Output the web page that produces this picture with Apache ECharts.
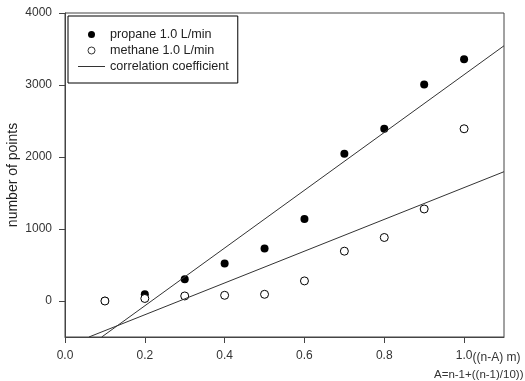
<!DOCTYPE html>
<html>
<head>
    <meta charset="utf-8">
    <title>ECharts</title>
    <script src="https://cdn.jsdelivr.net/npm/echarts@6/dist/echarts.min.js"></script>
    <style>
        html, body { margin: 0; padding: 0; background: #fff; }
    </style>
</head>
<body>
<div id="main" style="width: 525px;height:381px;"></div>
<script type="text/javascript">
    // data
    var xValues = [0.1, 0.2, 0.3, 0.4, 0.5, 0.6, 0.7, 0.8, 0.9, 1.0];
    var propane = [5, 93, 302, 520, 729, 1138, 2044, 2392, 3006, 3359];
    var methane = [0, 35, 70, 79, 93, 279, 692, 882, 1278, 2392];
    // fitted lines, endpoints where they leave the plot
    var propaneFit = [[0.092, -500], [1.1, 3545]];
    var methaneFit = [[0.06, -500], [1.1, 1796]];
    var xTicks = [0, 0.2, 0.4, 0.6, 0.8, 1.0];
    var yTicks = [0, 1000, 2000, 3000, 4000];

    function pairs(xs, ys) {
        return xs.map(function (x, i) { return [x, ys[i]]; });
    }

    var font = "'Liberation Sans', Arial, sans-serif";
    var axisColor = '#444';
    var lineColor = '#333';

    var myChart = echarts.init(document.getElementById('main'));
    var option = {
        animation: false,
        textStyle: { fontFamily: font },
        grid: {
            left: 65, right: 21, top: 13, bottom: 44,
            containLabel: false,
            outerBoundsMode: 'none',
            show: true,
            borderColor: axisColor,
            borderWidth: 1
        },
        legend: {
            orient: 'vertical',
            left: 68, top: 16,
            padding: [12, 9, 10, 10],
            itemWidth: 27,
            itemHeight: 7,
            itemGap: 3,
            borderColor: '#000',
            borderWidth: 1,
            textStyle: { fontSize: 12.6, color: '#222', fontFamily: font },
            data: [
                { name: 'propane 1.0 L/min' },
                { name: 'methane 1.0 L/min', itemStyle: { borderWidth: 0.8 } },
                // plain line icon for the fitted lines
                { name: 'correlation coefficient', icon: 'path://M0,0H27V1H0Z' }
            ]
        },
        xAxis: {
            type: 'value',
            min: 0, max: 1.1,
            splitLine: { show: false },
            axisLine: { onZero: false, lineStyle: { color: axisColor } },
            axisTick: { customValues: xTicks, length: 6, lineStyle: { color: axisColor } },
            axisLabel: {
                customValues: xTicks,
                color: '#333', fontSize: 12, margin: 13,
                formatter: function (v) { return v.toFixed(1); }
            },
            name: '{a|((n-A) m)}\n{b|A=n-1+((n-1)/10))}',
            nameLocation: 'end',
            nameGap: -70,
            nameMoveOverlap: false,
            nameTextStyle: {
                verticalAlign: 'top',
                padding: [12, 0, 0, 0],
                rich: {
                    a: { fontSize: 12, color: '#333', lineHeight: 17, align: 'right', padding: [0, 3, 0, 0] },
                    b: { fontSize: 11.5, color: '#333', lineHeight: 17, align: 'right' }
                }
            }
        },
        yAxis: {
            type: 'value',
            min: -500, max: 4000,
            splitLine: { show: false },
            axisLine: { onZero: false, lineStyle: { color: axisColor } },
            axisTick: { customValues: yTicks, length: 6, lineStyle: { color: axisColor } },
            axisLabel: {
                customValues: yTicks, color: '#333', fontSize: 12, margin: 13,
                formatter: function (v) { return String(v); }
            },
            name: 'number of points',
            nameLocation: 'middle',
            nameGap: 45,
            nameMoveOverlap: false,
            nameTextStyle: { fontSize: 14, color: '#222' }
        },
        series: [
            {
                name: 'correlation coefficient',
                type: 'line',
                symbol: 'none',
                lineStyle: { color: lineColor, width: 1 },
                itemStyle: { color: lineColor },
                data: propaneFit
            },
            {
                name: 'correlation coefficient',
                type: 'line',
                symbol: 'none',
                lineStyle: { color: lineColor, width: 1 },
                itemStyle: { color: lineColor },
                data: methaneFit
            },
            {
                name: 'propane 1.0 L/min',
                type: 'scatter',
                symbol: 'circle',
                symbolSize: 8,
                itemStyle: { color: '#000', opacity: 1 },
                data: pairs(xValues, propane)
            },
            {
                name: 'methane 1.0 L/min',
                type: 'scatter',
                symbol: 'circle',
                symbolSize: 8,
                itemStyle: { color: '#fff', borderColor: '#000', borderWidth: 1, opacity: 1 },
                data: pairs(xValues, methane)
            }
        ]
    };
    myChart.setOption(option);
</script>
</body>
</html>
